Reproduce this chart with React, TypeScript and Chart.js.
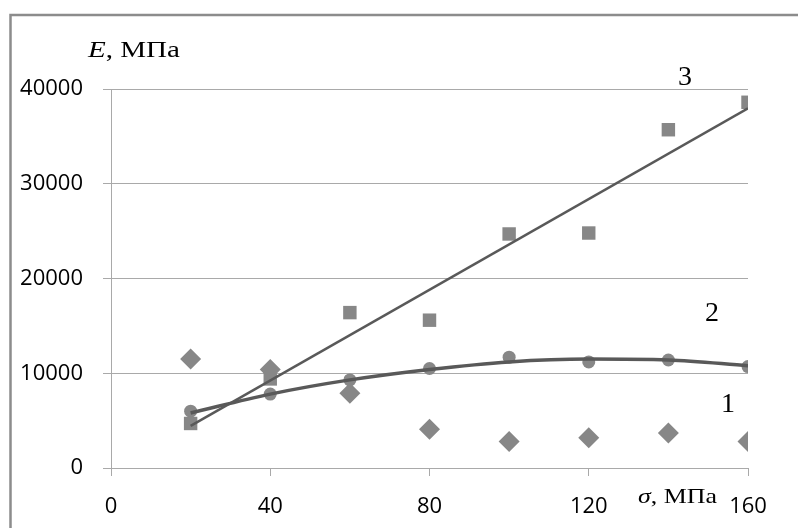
import React, { useEffect, useRef } from "react";
import { Chart, registerables } from "chart.js";

Chart.register(...registerables);

// σ, MPa
const sigma = [20, 40, 60, 80, 100, 120, 140, 160];
// Series 1 (diamonds)
const series1 = [11500, 10400, 7900, 4100, 2800, 3200, 3700, 2800];
// Series 2 (circles)
const series2 = [6000, 7800, 9300, 10500, 11700, 11200, 11400, 10700];
// Series 3 (squares)
const series3 = [4700, 9400, 16400, 15600, 24700, 24800, 35700, 38600];
// Trend line for series 3 (linear)
const trend3X = [20, 160];
const trend3Y = [4450, 37950];
// Trend curve for series 2
const trend2Y = [5800, 7800, 9300, 10400, 11200, 11500, 11400, 10800];

const xTicks = [0, 40, 80, 120, 160];
const yTicks = [0, 10000, 20000, 30000, 40000];

const MARK = "#878787";
const LINE = "#595959";
const GRID = "#a9a9a9";

type Part = { text: string; italic?: boolean };

function drawParts(
  ctx: CanvasRenderingContext2D,
  parts: Part[],
  x: number,
  baseline: number,
  size: number,
  targetWidth: number
) {
  ctx.save();
  ctx.fillStyle = "#000";
  ctx.textBaseline = "alphabetic";
  ctx.textAlign = "left";
  const fontOf = (p: Part) =>
    `${p.italic ? "italic " : ""}${size}px "Liberation Serif", "Times New Roman", serif`;
  let total = 0;
  for (const p of parts) {
    ctx.font = fontOf(p);
    total += ctx.measureText(p.text).width;
  }
  const sx = targetWidth / total;
  ctx.translate(x, baseline);
  ctx.scale(sx, 1);
  let cx = 0;
  for (const p of parts) {
    ctx.font = fontOf(p);
    ctx.fillText(p.text, cx, 0);
    cx += ctx.measureText(p.text).width;
  }
  ctx.restore();
}

export default function App() {
  const ref = useRef<HTMLCanvasElement>(null);

  useEffect(() => {
    if (!ref.current) return;
    const pts = (xs: number[], ys: number[]) => xs.map((x, i) => ({ x, y: ys[i] }));

    const decor = {
      id: "decor",
      beforeDraw(chart: any) {
        const ctx = chart.ctx as CanvasRenderingContext2D;
        ctx.save();
        ctx.fillStyle = "#fff";
        ctx.fillRect(0, 0, chart.width, chart.height);
        ctx.restore();
      },
      afterDraw(chart: any) {
        const ctx = chart.ctx as CanvasRenderingContext2D;
        // outer frame (top and left edges visible)
        ctx.save();
        ctx.strokeStyle = "#8c8c8c";
        ctx.lineWidth = 2.5;
        ctx.beginPath();
        ctx.moveTo(10.5, chart.height);
        ctx.lineTo(10.5, 15);
        ctx.lineTo(chart.width, 15);
        ctx.stroke();
        ctx.restore();

        drawParts(ctx, [{ text: "E", italic: true }, { text: ", МПа" }], 88, 57, 24, 92);
        drawParts(ctx, [{ text: "σ", italic: true }, { text: ", МПа" }], 638, 503, 22, 79);

        ctx.save();
        ctx.fillStyle = "#000";
        ctx.font = '28px "Liberation Serif", "Times New Roman", serif';
        ctx.textAlign = "center";
        ctx.textBaseline = "alphabetic";
        ctx.fillText("3", 685, 85);
        ctx.fillText("2", 712, 321);
        ctx.fillText("1", 728, 412);
        ctx.restore();
      },
    };

    const chart = new Chart(ref.current, {
      type: "scatter",
      data: {
        datasets: [
          {
            label: "trend3",
            data: pts(trend3X, trend3Y),
            showLine: true,
            borderColor: LINE,
            borderWidth: 2.5,
            pointRadius: 0,
            order: 0,
          },
          {
            label: "trend2",
            data: pts(sigma, trend2Y),
            showLine: true,
            borderColor: LINE,
            borderWidth: 3.5,
            pointRadius: 0,
            tension: 0.4,
            cubicInterpolationMode: "monotone",
            order: 1,
          },
          {
            label: "1",
            data: pts(sigma, series1),
            pointStyle: "rectRot",
            pointRadius: 10.5,
            backgroundColor: MARK,
            borderColor: MARK,
            borderWidth: 0,
            order: 4,
          },
          {
            label: "2",
            data: pts(sigma, series2),
            pointStyle: "circle",
            pointRadius: 6.5,
            backgroundColor: MARK,
            borderColor: MARK,
            borderWidth: 0,
            order: 3,
          },
          {
            label: "3",
            data: pts(sigma, series3),
            pointStyle: "rect",
            pointRadius: 9.5,
            backgroundColor: MARK,
            borderColor: MARK,
            borderWidth: 0,
            order: 2,
          },
        ],
      } as any,
      options: {
        animation: false,
        responsive: false,
        devicePixelRatio: 1,
        layout: { padding: { left: 0, top: 89, right: 50, bottom: 0 } },
        plugins: {
          legend: { display: false },
          tooltip: { enabled: false },
          title: { display: false },
        },
        scales: {
          x: {
            type: "linear",
            min: 0,
            max: 160,
            afterBuildTicks: (s: any) => {
              s.ticks = xTicks.map((v) => ({ value: v }));
            },
            afterFit: (s: any) => {
              s.height = 60;
            },
            grid: {
              drawOnChartArea: false,
              drawTicks: true,
              tickLength: 8,
              color: GRID,
              lineWidth: 1,
            },
            border: { display: true, color: GRID, width: 1 },
            ticks: {
              padding: 18,
              color: "#000",
              font: { family: '"Open Sans", "Noto Sans", sans-serif', size: 22 },
              maxRotation: 0,
              autoSkip: false,
              callback: (v: any) => String(v),
            },
          },
          y: {
            type: "linear",
            min: 0,
            max: 40000,
            afterBuildTicks: (s: any) => {
              s.ticks = yTicks.map((v) => ({ value: v }));
            },
            afterFit: (s: any) => {
              s.width = 111;
            },
            grid: {
              drawOnChartArea: true,
              drawTicks: true,
              tickLength: 8,
              color: GRID,
              lineWidth: 1,
            },
            border: { display: true, color: GRID, width: 1 },
            ticks: {
              padding: 20,
              color: "#000",
              font: { family: '"Open Sans", "Noto Sans", sans-serif', size: 22 },
              autoSkip: false,
              callback: (v: any) => String(v),
            },
          },
        },
      } as any,
      plugins: [decor],
    });
    return () => chart.destroy();
  }, []);

  return (
    <div
      style={{
        position: "fixed",
        left: 0,
        top: 0,
        width: 798,
        height: 528,
        background: "#fff",
      }}
    >
      <canvas
        ref={ref}
        width={798}
        height={528}
        style={{ width: 798, height: 528, display: "block" }}
      />
    </div>
  );
}
